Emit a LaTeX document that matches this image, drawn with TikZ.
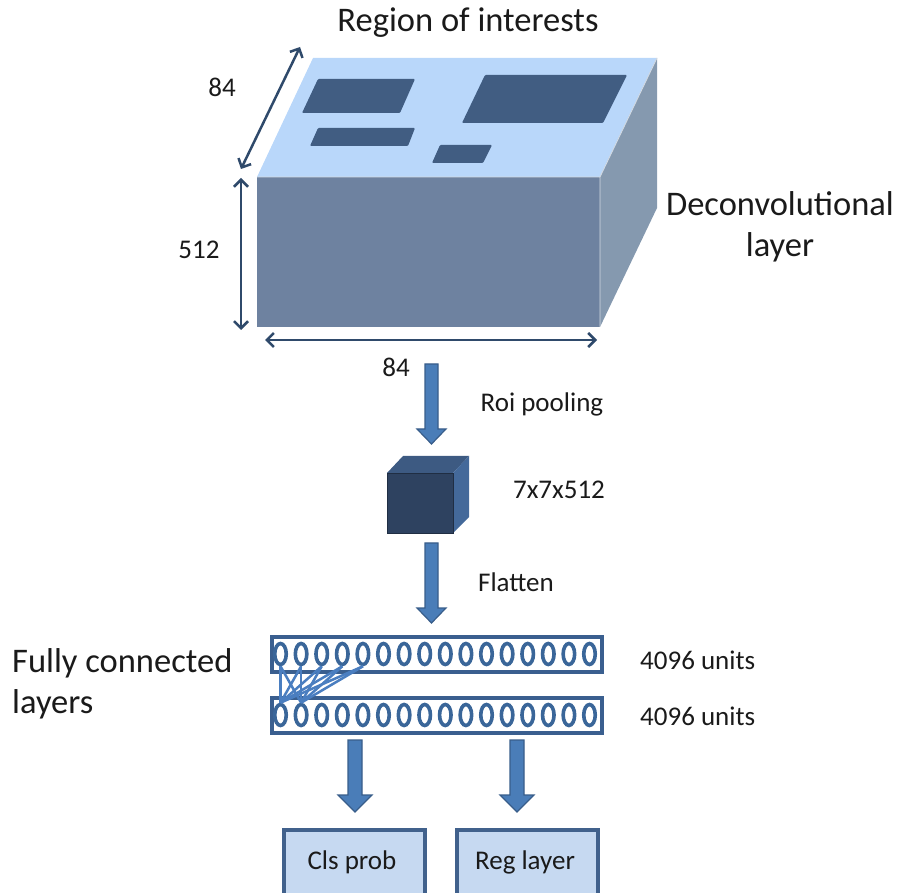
\documentclass[tikz,border=0pt]{standalone}
\usepackage{fontspec}
\setmainfont{Carlito}
\usetikzlibrary{arrows.meta,shapes.geometric}
\definecolor{txt}{HTML}{1A1A1A}
\definecolor{dimc}{HTML}{2F4A6B}
\definecolor{topface}{HTML}{B9D7FA}
\definecolor{frontface}{HTML}{6E82A0}
\definecolor{sideface}{HTML}{8599AF}
\definecolor{roi}{HTML}{415D82}
\definecolor{cubefront}{HTML}{2E4260}
\definecolor{cubetop}{HTML}{3D5A82}
\definecolor{cubeside}{HTML}{44699A}
\definecolor{barfill}{HTML}{4A7DB8}
\definecolor{baredge}{HTML}{385D8A}
\definecolor{layeredge}{HTML}{3A5F8F}
\definecolor{unitc}{HTML}{3A6699}
\definecolor{linkc}{HTML}{4A7EC0}
\definecolor{outfill}{HTML}{C6D9F1}
\definecolor{outedge}{HTML}{41618C}
\tikzset{
  lbl/.style={text=txt, font=\fontsize{27}{32}\selectfont, inner sep=0pt},
  biglbl/.style={text=txt, font=\fontsize{34.5}{41}\selectfont, inner sep=0pt, align=center},
  dimarrow/.style={draw=dimc, line width=2.5pt, {Straight Barb[length=7pt,width=14pt]}-{Straight Barb[length=7pt,width=14pt]}},
  blockarrow/.style={fill=barfill, draw=baredge, line width=1.2pt, line join=miter},
  layerbox/.style={draw=layeredge, line width=4pt, fill=white},
  unit/.style={draw=unitc, line width=3.6pt, ellipse, minimum width=11.5pt, minimum height=21pt, inner sep=0pt},
  outbox/.style={draw=outedge, fill=outfill, line width=3.5pt, minimum width=141pt, minimum height=80pt, anchor=north west, inner sep=0pt},
}
\begin{document}
\begin{tikzpicture}[x=1pt,y=-1pt]
\useasboundingbox (0,0) rectangle (898,893);
% ---- deconvolutional block ----
\fill[topface] (257,177) -- (313,58) -- (657,58) -- (600,177) -- cycle;
\fill[sideface] (600,177) -- (657,58) -- (657,208) -- (600,327) -- cycle;
\fill[frontface] (257,177) rectangle (600,327);
\draw[white!70!frontface, line width=0.8pt] (257,177) -- (600,177) -- (600,327) (600,177) -- (657,58);
% regions of interest on the top face
\fill[roi, rounded corners=1pt] (318,79) -- (415,79) -- (400,113) -- (302,113) -- cycle;
\fill[roi, rounded corners=1pt] (318,128) -- (415,128) -- (408,146) -- (310,146) -- cycle;
\fill[roi, rounded corners=1pt] (485,75) -- (627,75) -- (603,123) -- (462,123) -- cycle;
\fill[roi, rounded corners=1pt] (440,145) -- (492,145) -- (483,163) -- (432,163) -- cycle;
% dimension arrows
\coordinate (dA) at (300,47);
\coordinate (dB) at (241,169);
\coordinate (hA) at (241,178);
\coordinate (hB) at (241,330);
\coordinate (wA) at (265,340);
\coordinate (wB) at (597,340);
\draw[dimarrow] (dA) -- (dB);
\draw[dimarrow] (hA) -- (hB);
\draw[dimarrow] (wA) -- (wB);
\node[lbl] (ldepth) at (222,87) {84};
\node[lbl] (lheight) at (199,250) {512};
\node[lbl] (lwidth) at (396,367) {84};
\node[biglbl] (title) at (468,23) {Region of interests};
\node[biglbl] (deconv) at (780,227) {Deconvolutional\\layer};
% ---- roi pooling arrow ----
\draw[blockarrow] (425,364) -- (438,364) -- (438,429) -- (446,429) -- (431.5,444) -- (417,429) -- (425,429) -- cycle;
\node[lbl] (lroi) at (542,404) {Roi pooling};
% ---- pooled cube ----
\fill[cubetop] (387,473) -- (403,456) -- (469,456) -- (453,473) -- cycle;
\fill[cubeside] (453,473) -- (469,456) -- (469,517) -- (453,533) -- cycle;
\fill[cubefront] (387,473) rectangle (453,533);
\draw[cubefront!70!black, line width=0.8pt] (387,473) rectangle (453,533);
\node[lbl] (lcube) at (559,490) {7x7x512};
% ---- flatten arrow ----
\draw[blockarrow] (425,543) -- (438,543) -- (438,608) -- (446,608) -- (431.5,623) -- (417,608) -- (425,608) -- cycle;
\node[lbl] (lflat) at (516,582) {Flatten};
% ---- fully connected layers ----
\draw[layerbox] (272,637) rectangle (602,672);
\draw[layerbox] (272,698) rectangle (602,733);
\foreach \i in {0,...,15} {
  \node[unit] (t\i) at (280.5+\i*20.6,654) {};
  \node[unit] (b\i) at (280.5+\i*20.6,715) {};
}
\foreach \i in {0,...,4} {
  \draw[linkc, line width=2.5pt] (t\i.south) -- (b0.north);
  \draw[linkc, line width=2.5pt] (t\i.south) -- (b1.north);
}
\node[lbl, anchor=west] (u1) at (640,660) {4096 units};
\node[lbl, anchor=west] (u2) at (640,716) {4096 units};
\node[biglbl, anchor=west, align=left] (fc) at (12,684) {Fully connected\\layers};
% ---- output heads ----
\draw[blockarrow] (348,740) -- (362,740) -- (362,795) -- (372,795) -- (355,812) -- (338,795) -- (348,795) -- cycle;
\draw[blockarrow] (510,740) -- (524,740) -- (524,795) -- (534,795) -- (517,812) -- (500,795) -- (510,795) -- cycle;
\node[outbox] (cls) at (282,828) {};
\node[outbox] (reg) at (455,828) {};
\node[lbl] (lcls) at (352,862) {Cls prob};
\node[lbl] (lreg) at (525,862) {Reg layer};
\end{tikzpicture}
\end{document}
